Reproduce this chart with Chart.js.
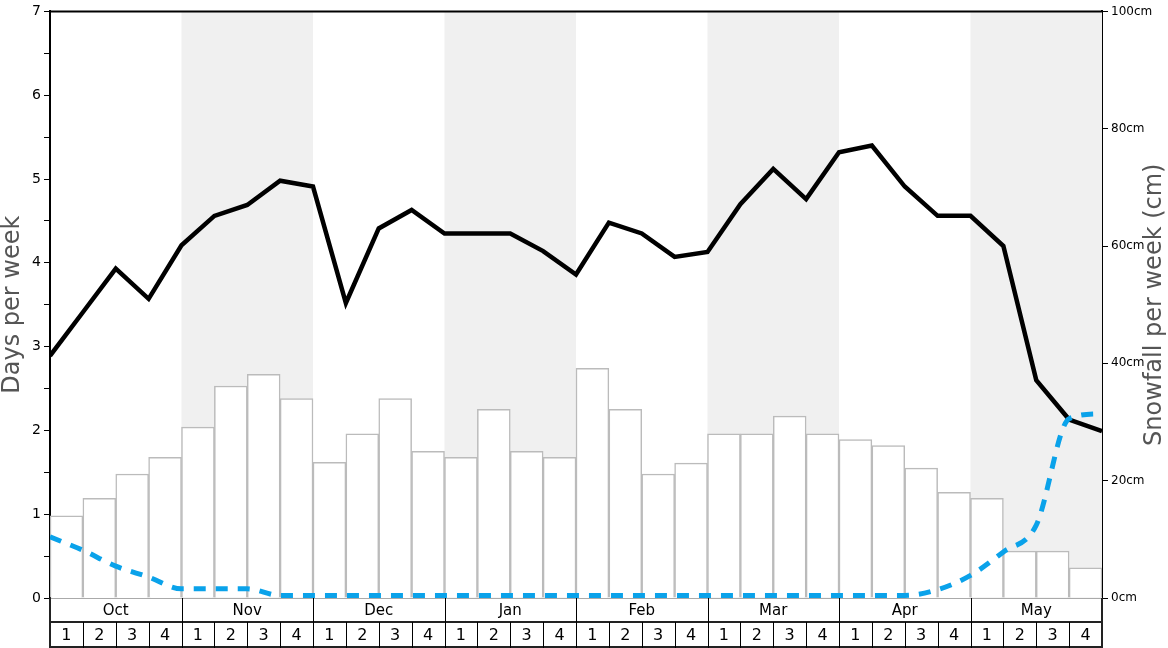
<!DOCTYPE html>
<html>
<head>
<meta charset="utf-8">
<script src="https://cdn.jsdelivr.net/npm/chart.js@4"></script>
<style>
  html, body { margin: 0; padding: 0; background: #fff; }
  #wrap { width: 1168px; height: 648px; }
</style>
</head>
<body>
<div id="wrap"><canvas id="chart" width="1168" height="648"></canvas></div>
<script>
// months and week numbers shown under the plot
const months = ['Oct', 'Nov', 'Dec', 'Jan', 'Feb', 'Mar', 'Apr', 'May'];
const weekLabels = ['1', '2', '3', '4'];

// bars: one per week (left axis)
const weeklyBars = [0.98, 1.19, 1.48, 1.68, 2.04, 2.53, 2.67, 2.38,
                    1.62, 1.96, 2.38, 1.75, 1.68, 2.25, 1.75, 1.68,
                    2.74, 2.25, 1.48, 1.61, 1.96, 1.96, 2.17, 1.96,
                    1.89, 1.82, 1.55, 1.26, 1.19, 0.56, 0.56, 0.36];

// black line: value at each week boundary (33 points)
const blackLine = [2.89, 3.41, 3.93, 3.57, 4.21, 4.56, 4.69, 4.98, 4.91,
                   3.52, 4.41, 4.63, 4.35, 4.35, 4.35, 4.14, 3.86, 4.48,
                   4.35, 4.07, 4.13, 4.70, 5.12, 4.76, 5.32, 5.40, 4.91,
                   4.56, 4.56, 4.20, 2.60, 2.13, 1.99];

// blue dashed line: value at each week boundary (33 points)
const blueLine = [0.73, 0.57, 0.38, 0.25, 0.11, 0.11, 0.11, 0.03, 0.03,
                  0.03, 0.03, 0.03, 0.03, 0.03, 0.03, 0.03, 0.03, 0.03,
                  0.03, 0.03, 0.03, 0.03, 0.03, 0.03, 0.03, 0.03, 0.03,
                  0.10, 0.27, 0.55, 0.87, 2.14, 2.20];

const rightTicks = [0, 20, 40, 60, 80, 100];

const fontFamily = '"DejaVu Sans", sans-serif';

let barPoints = weeklyBars.map((v, i) => ({ x: i + 0.5, y: v }));
let blackPoints = blackLine.map((v, i) => ({ x: i, y: v }));
let bluePoints = blueLine.map((v, i) => ({ x: i, y: v }));

const tablePlugin = {
    id: 'tablePlugin',
    beforeDatasetsDraw(chart) {
        const ctx = chart.ctx;
        const area = chart.chartArea;
        const xs = chart.scales.x;
        ctx.save();
        ctx.fillStyle = '#f0f0f0';
        for (let m = 1; m < months.length; m += 2) {
            let x0 = xs.getPixelForValue(m * 4);
            let x1 = xs.getPixelForValue(m * 4 + 4);
            ctx.fillRect(x0, area.top, x1 - x0, area.bottom - area.top);
        }
        ctx.restore();
    },
    afterDraw(chart) {
        const ctx = chart.ctx;
        const area = chart.chartArea;
        const xs = chart.scales.x;
        const rowMid = area.bottom + 24;
        const rowEnd = chart.height - 1;
        ctx.save();

        // top border
        ctx.strokeStyle = '#000';
        ctx.lineWidth = 2;
        ctx.beginPath();
        ctx.moveTo(area.left - 1, area.top);
        ctx.lineTo(area.right + 1, area.top);
        ctx.stroke();

        // bottom axis line
        ctx.strokeStyle = '#aaa';
        ctx.lineWidth = 1;
        ctx.beginPath();
        ctx.moveTo(area.left, area.bottom + 0.5);
        ctx.lineTo(area.right, area.bottom + 0.5);
        ctx.stroke();

        ctx.strokeStyle = '#222';
        ctx.lineWidth = 2;
        ctx.beginPath();
        ctx.moveTo(area.left, rowMid);
        ctx.lineTo(area.right, rowMid);
        ctx.moveTo(area.left, rowEnd);
        ctx.lineTo(area.right, rowEnd);
        ctx.moveTo(area.left, area.bottom);
        ctx.lineTo(area.left, chart.height);
        ctx.moveTo(area.right, area.bottom);
        ctx.lineTo(area.right, chart.height);
        ctx.stroke();

        ctx.fillStyle = '#000';
        ctx.textAlign = 'center';
        ctx.textBaseline = 'middle';
        ctx.lineWidth = 1;
        ctx.strokeStyle = '#000';
        for (let m = 0; m < months.length; m++) {
            let x0 = xs.getPixelForValue(m * 4);
            let x1 = xs.getPixelForValue(m * 4 + 4);
            ctx.font = '15px ' + fontFamily;
            ctx.fillText(months[m], (x0 + x1) / 2, (area.bottom + rowMid) / 2 + 1);
            if (m > 0) {
                ctx.beginPath();
                ctx.moveTo(Math.round(x0) + 0.5, area.bottom);
                ctx.lineTo(Math.round(x0) + 0.5, chart.height);
                ctx.stroke();
            }
            ctx.font = '16px ' + fontFamily;
            for (let w = 0; w < 4; w++) {
                let wx0 = xs.getPixelForValue(m * 4 + w);
                let wx1 = xs.getPixelForValue(m * 4 + w + 1);
                ctx.fillText(weekLabels[w], (wx0 + wx1) / 2, (rowMid + rowEnd) / 2 + 1);
                if (w > 0) {
                    ctx.beginPath();
                    ctx.moveTo(Math.round(wx0) + 0.5, rowMid);
                    ctx.lineTo(Math.round(wx0) + 0.5, chart.height);
                    ctx.stroke();
                }
            }
        }

        // axis titles
        ctx.fillStyle = '#555';
        ctx.font = '24px ' + fontFamily;
        ctx.save();
        ctx.translate(13, (area.top + area.bottom) / 2);
        ctx.rotate(-Math.PI / 2);
        ctx.fillText('Days per week', 0, 0);
        ctx.restore();
        ctx.save();
        ctx.translate(1155, (area.top + area.bottom) / 2);
        ctx.rotate(-Math.PI / 2);
        ctx.fillText('Snowfall per week (cm)', 0, 0);
        ctx.restore();

        ctx.restore();
    }
};

let config = {
    type: 'bar',
    data: {
        datasets: [
            {
                type: 'line',
                label: 'blue',
                data: bluePoints,
                borderColor: '#0aa2ea',
                borderWidth: 5,
                borderDash: [12, 10],
                pointRadius: 0,
                fill: false,
                cubicInterpolationMode: 'monotone',
                order: 0
            },
            {
                type: 'line',
                label: 'black',
                data: blackPoints,
                borderColor: '#000',
                borderWidth: 4.5,
                pointRadius: 0,
                fill: false,
                tension: 0,
                order: 1
            },
            {
                label: 'bars',
                data: barPoints,
                backgroundColor: '#fff',
                borderColor: '#bbb',
                borderWidth: 1.5,
                barPercentage: 1,
                categoryPercentage: 1,
                order: 2
            }
        ]
    },
    options: {
        responsive: false,
        animation: false,
        layout: { padding: { top: 10, bottom: 50, left: 0, right: 0 } },
        plugins: {
            legend: { display: false },
            tooltip: { enabled: false },
            title: { display: false }
        },
        scales: {
            x: {
                type: 'linear',
                display: false,
                min: 0,
                max: 32,
                offset: false
            },
            y: {
                position: 'left',
                min: 0,
                max: 7,
                afterFit: (s) => { s.width = 50; },
                ticks: {
                    stepSize: 0.5,
                    autoSkip: false,
                    padding: 3,
                    color: '#000',
                    font: { size: 14, family: fontFamily },
                    callback: (v) => Number.isInteger(v) ? String(v) : ''
                },
                grid: { drawOnChartArea: false, tickLength: 6, color: '#000' },
                border: { color: '#000', width: 2 }
            },
            y2: {
                position: 'right',
                min: 0,
                max: 100,
                afterFit: (s) => { s.width = 66; },
                afterBuildTicks: (s) => { s.ticks = rightTicks.map(v => ({ value: v })); },
                ticks: {
                    autoSkip: false,
                    padding: 3,
                    color: '#000',
                    font: { size: 12, family: fontFamily },
                    callback: (v) => v + 'cm'
                },
                grid: { drawOnChartArea: false, tickLength: 6, color: '#000' },
                border: { color: '#000', width: 2 }
            }
        }
    },
    plugins: [tablePlugin]
};

let ctx = document.getElementById('chart').getContext('2d');
window.myChart = new Chart(ctx, config);
</script>
</body>
</html>
